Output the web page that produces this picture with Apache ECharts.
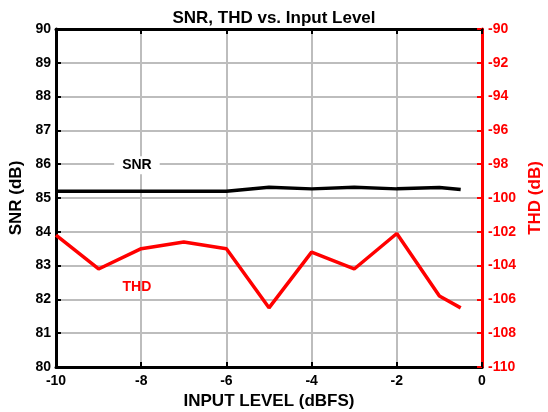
<!DOCTYPE html>
<html>
<head>
<meta charset="utf-8">
<script src="https://cdn.jsdelivr.net/npm/echarts@6/dist/echarts.min.js"></script>
<style>
  html, body { margin: 0; padding: 0; background: #fff; }
  #chart { width: 548px; height: 412px; }
</style>
</head>
<body>
<div id="chart"></div>
<script>
// input level (dBFS)
var inputLevel = [-10, -9, -8, -7, -6, -5, -4, -3, -2, -1, -0.5];
// SNR, dB (left axis)
var snr = [85.2, 85.2, 85.2, 85.2, 85.2, 85.32, 85.27, 85.32, 85.27, 85.31, 85.25];
// THD, dB (right axis)
var thd = [-102.2, -104.2, -103.0, -102.6, -103.0, -106.5, -103.2, -104.2, -102.1, -105.8, -106.5];

function pairs(xs, ys) {
  var out = [];
  for (var i = 0; i < xs.length; i++) out.push([xs[i], ys[i]]);
  return out;
}

var font = 'Liberation Sans, Arial, sans-serif';
var chart = echarts.init(document.getElementById('chart'));

var option = {
  animation: false,
  backgroundColor: '#fff',
  title: {
    text: 'SNR, THD vs. Input Level',
    left: 'center',
    top: 5,
    textStyle: { fontFamily: font, fontSize: 17, fontWeight: 'bold', color: '#000' }
  },
  grid: { left: 56, right: 66, top: 29, bottom: 45, outerBoundsMode: 'none' },
  xAxis: [
    {
      type: 'value', min: -10, max: 0, interval: 2,
      name: 'INPUT LEVEL (dBFS)', nameLocation: 'middle', nameGap: 23,
      nameTextStyle: { fontFamily: font, fontSize: 17, fontWeight: 'bold', color: '#000' },
      axisLine: { show: true, onZero: false, lineStyle: { color: '#000', width: 3 } },
      axisTick: { show: true, inside: true, length: 5, lineStyle: { color: '#000', width: 2 } },
      axisLabel: { fontFamily: font, fontSize: 14, fontWeight: 'bold', color: '#000', margin: 7 },
      splitLine: { show: true, lineStyle: { color: '#bdbdbd', width: 2 } }
    },
    {
      type: 'value', min: -10, max: 0, interval: 2, position: 'top',
      axisLine: { show: true, onZero: false, lineStyle: { color: '#000', width: 3 } },
      axisTick: { show: true, inside: true, length: 5, lineStyle: { color: '#000', width: 2 } },
      axisLabel: { show: false },
      splitLine: { show: false }
    }
  ],
  yAxis: [
    {
      type: 'value', min: 80, max: 90, interval: 1,
      name: 'SNR (dB)', nameLocation: 'middle', nameGap: 27, nameRotate: 90,
      nameTextStyle: { fontFamily: font, fontSize: 17, fontWeight: 'bold', color: '#000' },
      axisLine: { show: true, onZero: false, lineStyle: { color: '#000', width: 3 } },
      axisTick: { show: true, inside: true, length: 5, lineStyle: { color: '#000', width: 2 } },
      axisLabel: { fontFamily: font, fontSize: 14, fontWeight: 'bold', color: '#000', margin: 5 },
      splitLine: { show: true, lineStyle: { color: '#bdbdbd', width: 2 } }
    },
    {
      type: 'value', min: -110, max: -90, interval: 2, position: 'right',
      name: 'THD (dB)', nameLocation: 'middle', nameGap: 43, nameRotate: 90,
      nameTextStyle: { fontFamily: font, fontSize: 17, fontWeight: 'bold', color: '#ff0000' },
      axisLine: { show: true, onZero: false, lineStyle: { color: '#ff0000', width: 3 } },
      axisTick: { show: true, inside: true, length: 5, lineStyle: { color: '#ff0000', width: 2 } },
      axisLabel: { fontFamily: font, fontSize: 14, fontWeight: 'bold', color: '#ff0000', margin: 6 },
      splitLine: { show: false }
    }
  ],
  series: [
    {
      name: 'SNR', type: 'line', xAxisIndex: 0, yAxisIndex: 0,
      data: pairs(inputLevel, snr),
      showSymbol: false, symbol: 'none',
      lineStyle: { color: '#000', width: 3.5 },
      markPoint: {
        symbol: 'circle', symbolSize: 0,
        data: [{ coord: [-8.1, 85.97] }],
        label: {
          show: true, position: 'inside', formatter: 'SNR',
          fontFamily: font, fontSize: 14, fontWeight: 'bold', color: '#000',
          backgroundColor: '#fff', padding: [2, 8]
        }
      }
    },
    {
      name: 'THD', type: 'line', xAxisIndex: 0, yAxisIndex: 1,
      data: pairs(inputLevel, thd),
      showSymbol: false, symbol: 'none',
      lineStyle: { color: '#ff0000', width: 3.5 },
      markPoint: {
        symbol: 'circle', symbolSize: 0,
        data: [{ coord: [-8.1, -105.3] }],
        label: {
          show: true, position: 'inside', formatter: 'THD',
          fontFamily: font, fontSize: 14, fontWeight: 'bold', color: '#ff0000'
        }
      }
    }
  ]
};

chart.setOption(option);
</script>
</body>
</html>
